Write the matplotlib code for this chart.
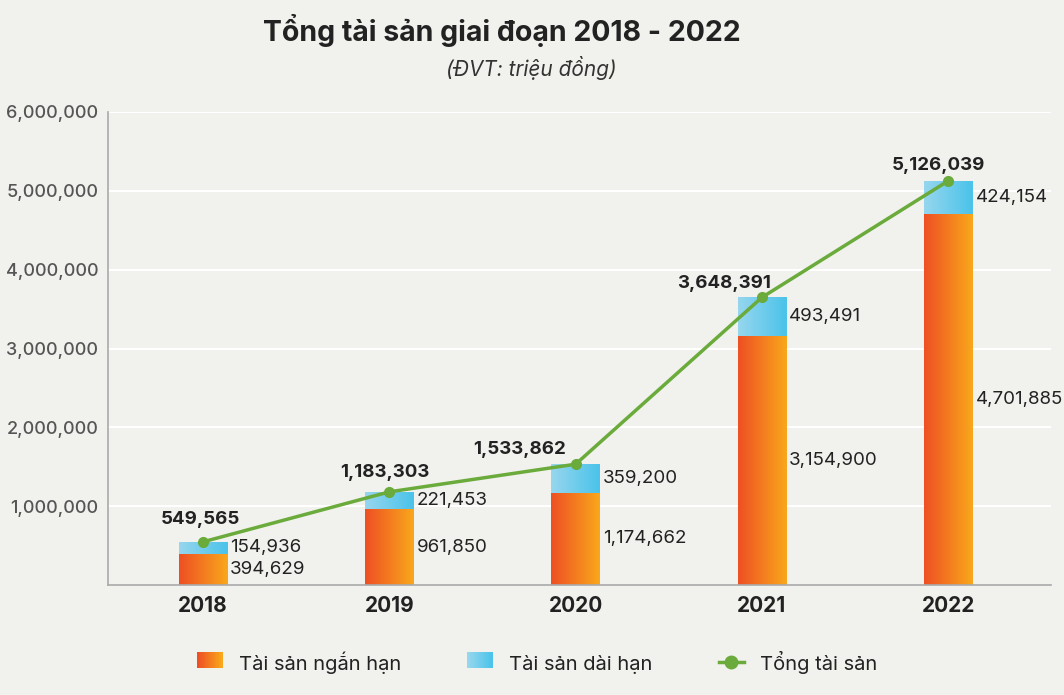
# Tong tai san 2018-2022: stacked bars with gradient fill + total line

import numpy as np
import matplotlib
matplotlib.use("Agg")
import matplotlib.pyplot as plt
from matplotlib.colors import LinearSegmentedColormap
from matplotlib.patches import Rectangle
from matplotlib.lines import Line2D
from matplotlib.legend_handler import HandlerBase
from matplotlib.ticker import FuncFormatter

years = ["2018", "2019", "2020", "2021", "2022"]
short_term = [394629, 961850, 1174662, 3154900, 4701885]
long_term = [154936, 221453, 359200, 493491, 424154]
total = [549565, 1183303, 1533862, 3648391, 5126039]

plt.rcParams["font.family"] = ["Inter", "DejaVu Sans"]

BG = "#f1f1ee"
ORANGE = ("#ee5024", "#f9a71b")
BLUE = ("#96d6ee", "#4bc3ea")
GREEN = "#6aab3b"
TEXT = "#222222"

cmap_orange = LinearSegmentedColormap.from_list("o", ORANGE)
cmap_blue = LinearSegmentedColormap.from_list("b", BLUE)

fig = plt.figure(figsize=(10.64, 6.95), dpi=100, facecolor=BG)
ax = fig.add_axes([0.1015, 0.158, 0.886, 0.681], facecolor=BG)

x = np.arange(len(years))
w = 0.26
b1 = ax.bar(x, short_term, w, color="none", zorder=2)
b2 = ax.bar(x, long_term, w, bottom=short_term, color="none", zorder=2)

grad = np.linspace(0, 1, 64).reshape(1, -1)
for bars, cm in ((b1, cmap_orange), (b2, cmap_blue)):
    for p in bars:
        x0, y0 = p.get_x(), p.get_y()
        im = ax.imshow(grad, cmap=cm, aspect="auto", zorder=2,
                       extent=[x0, x0 + p.get_width(), y0, y0 + p.get_height()])
        im.set_clip_path(p)

ax.plot(x, total, color=GREEN, lw=2.5, marker="o", ms=7, zorder=4)

ax.set_xlim(-0.51, 4.55)
ax.set_ylim(0, 6000000)

# segment labels, to the right of each bar
for i in range(len(years)):
    xr = x[i] + w / 2
    ax.annotate(f"{short_term[i]:,}", (xr, short_term[i] / 2), xytext=(3, 0),
                textcoords="offset pixels", ha="left", va="center",
                fontsize=13.5, color=TEXT)
    ax.annotate(f"{long_term[i]:,}", (xr, short_term[i] + long_term[i] / 2),
                xytext=(3, 0), textcoords="offset pixels", ha="left",
                va="center", fontsize=13.5, color=TEXT)

# total labels
offs = [(-3, 22), (-4, 19), (-56, 15), (-38, 14), (-10, 15)]
for i, v in enumerate(total):
    ax.annotate(f"{v:,}", (x[i], v), xytext=offs[i], textcoords="offset pixels",
                ha="center", va="center", fontsize=13.5, fontweight="bold",
                color=TEXT)

ax.set_yticks(range(1000000, 6000001, 1000000))
ax.yaxis.set_major_formatter(FuncFormatter(lambda v, _: f"{int(v):,}"))
ax.set_xticks(x, years)
ax.tick_params(axis="y", length=0, pad=7, labelsize=13, labelcolor="#555555")
ax.tick_params(axis="x", length=0, pad=8, labelsize=15, labelcolor=TEXT)
for lb in ax.get_xticklabels():
    lb.set_fontweight("bold")
for lb in ax.get_yticklabels():
    lb.set_fontweight("medium")

ax.grid(axis="y", color="white", lw=1.5, zorder=0)
ax.set_axisbelow(True)
for s in ("top", "right"):
    ax.spines[s].set_visible(False)
for s in ("left", "bottom"):
    ax.spines[s].set_color("#aaaaaa")
    ax.spines[s].set_linewidth(1.2)

fig.text(0.472, 0.956, "Tổng tài sản giai đoạn 2018 - 2022", ha="center",
         va="center", fontsize=20.5, fontweight="bold", color=TEXT)
fig.text(0.499, 0.902, "(ĐVT: triệu đồng)", ha="center", va="center",
         fontsize=15, style="italic", color="#333333")


class GradHandler(HandlerBase):
    def __init__(self, cm):
        super().__init__()
        self.cm = cm

    def create_artists(self, legend, orig, xd, yd, width, height, fontsize, trans):
        n = 20
        out = []
        for k in range(n):
            r = Rectangle((xd + width * k / n, yd), width / n + 0.3, height,
                          facecolor=self.cm(k / (n - 1)), edgecolor="none",
                          transform=trans)
            out.append(r)
        return out


h1 = Rectangle((0, 0), 1, 1)
h2 = Rectangle((0, 0), 1, 1)
h3 = Line2D([], [], color=GREEN, lw=2.5, marker="o", ms=9)
leg = fig.legend([h1, h2, h3], ["Tài sản ngắn hạn", "Tài sản dài hạn", "Tổng tài sản"],
                 handler_map={h1: GradHandler(cmap_orange), h2: GradHandler(cmap_blue)},
                 loc="center", bbox_to_anchor=(0.505, 0.047), ncol=3, frameon=False,
                 fontsize=14.5, handlelength=1.25, handleheight=0.9, columnspacing=3.3,
                 handletextpad=0.8, labelcolor=TEXT)

fig.savefig("out.png", dpi=100, facecolor=BG)
